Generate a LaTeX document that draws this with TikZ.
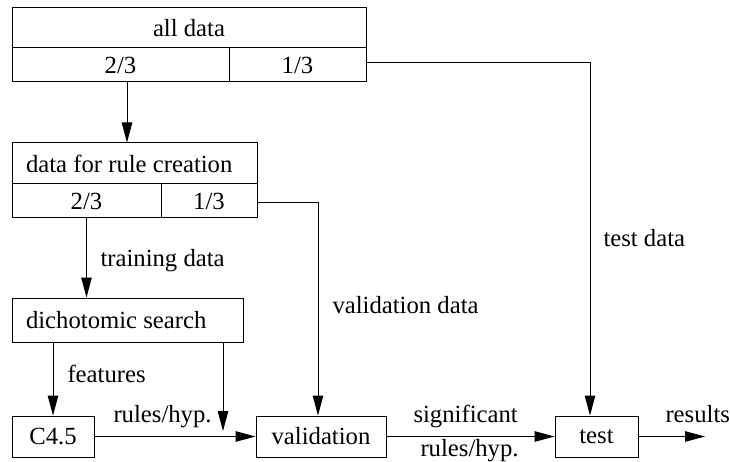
\documentclass[tikz,border=0pt]{standalone}
\usepackage{fontspec}
\setmainfont{Liberation Serif}
\usetikzlibrary{arrows.meta}
\begin{document}
\begin{tikzpicture}[x=1pt,y=-1pt,
  font=\fontsize{24.7}{29}\selectfont,
  line width=1pt,
  box/.style={draw, inner sep=0pt, anchor=center},
  arr/.style={-{Triangle[length=20pt,width=10.5pt]}},
  lab/.style={inner sep=0pt, anchor=base west}]
\useasboundingbox (0,0) rectangle (730,462);
% all data
\node[box, minimum width=354pt, minimum height=40pt] (alld) at (189,28) {all data};
\node[box, minimum width=217pt, minimum height=34pt] (a23) at (120.5,65) {2/3};
\node[box, minimum width=137pt, minimum height=34pt] (a13) at (297.5,65) {1/3};
% data for rule creation
\node[box, minimum width=245pt, minimum height=41pt] (rc) at (134.5,163.5) {\makebox[217pt][l]{data for rule creation}};
\node[box, minimum width=149pt, minimum height=34pt] (r23) at (86.5,201) {2/3};
\node[box, minimum width=96pt, minimum height=34pt] (r13) at (209,201) {1/3};
% dichotomic search
\node[box, minimum width=231pt, minimum height=44pt] (ds) at (127.5,320) {\makebox[203pt][l]{dichotomic search}};
% bottom row
\node[box, minimum width=82pt, minimum height=41pt] (c45) at (53,436.5) {C4.5};
\node[box, minimum width=130pt, minimum height=41pt] (val) at (321,436.5) {validation};
\node[box, minimum width=83pt, minimum height=41pt] (test) at (596.5,436.5) {test};
\coordinate (res) at (705,436.5);
\coordinate (dsend) at (223,431);
% connectors
\draw[arr] ([xshift=6.5pt]a23.south) -- ([xshift=6.5pt]a23.south |- rc.north);
\draw[arr] (r23.south) -- (r23.south |- ds.north);
\draw[arr] ([yshift=-2pt]r13.east) -| ([xshift=-3pt]val.north);
\draw[arr] ([yshift=2pt]a13.east) -| ([xshift=-6.5pt]test.north);
\draw[arr] (ds.south -| c45) -- (c45.north);
\draw[arr] (ds.south -| dsend) -- (dsend);
\draw[arr] (c45.east) -- (val.west);
\draw[arr] (val.east) -- (test.west);
\draw[arr] (test.east) -- (res);
% labels
\node[lab] (ltrain) at (100,266) {training data};
\node[lab] (lfeat) at (67,382) {features};
\node[lab] (lrules) at (113,422) {rules/hyp.};
\node[lab] (lval) at (332,313) {validation data};
\node[lab] (ltest) at (603,247) {test data};
\node[lab] (lsig) at (413,422) {significant};
\node[lab] (lrules2) at (420,456) {rules/hyp.};
\node[lab] (lres) at (665,422) {results};
\end{tikzpicture}
\end{document}
